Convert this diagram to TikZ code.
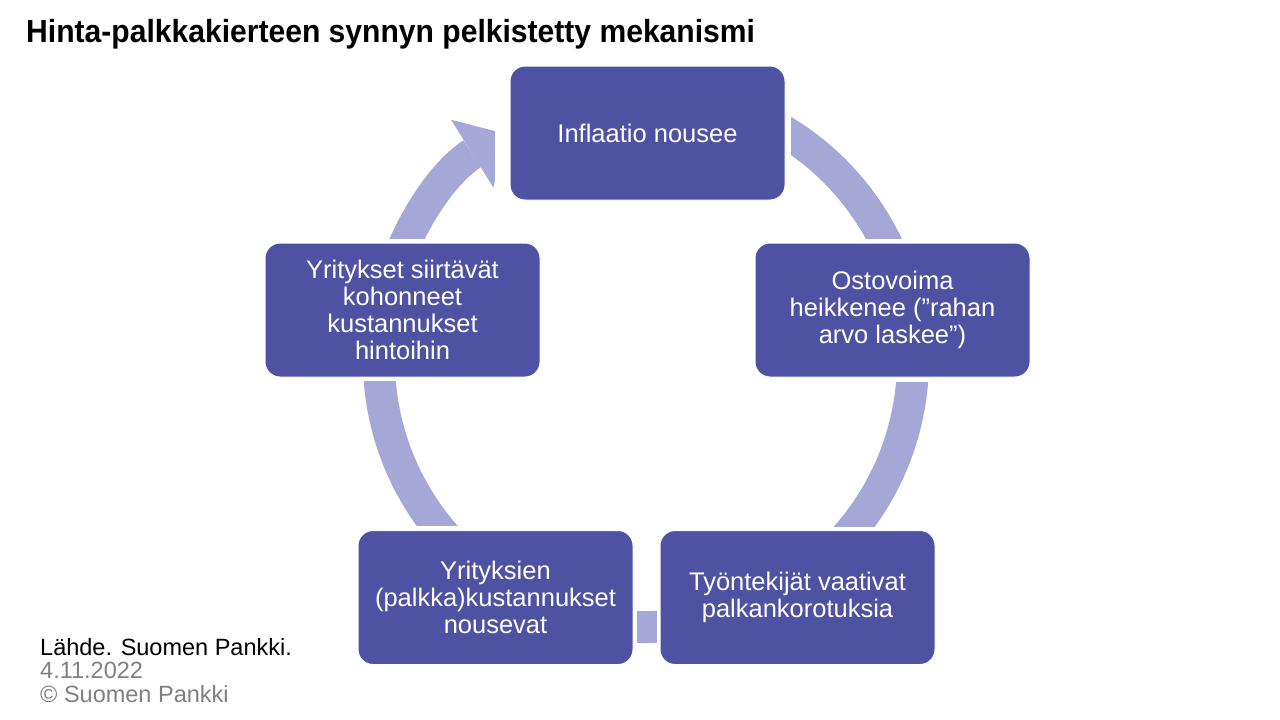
\documentclass[tikz,border=0pt]{standalone}
\usepackage{fontspec}
\setmainfont{Liberation Sans}
\newfontfamily\narrowfont[FakeStretch=0.94]{Liberation Sans}
\usetikzlibrary{arrows.meta,backgrounds}

\definecolor{boxblue}{RGB}{79,82,162}
\definecolor{ringblue}{RGB}{165,168,214}
\definecolor{srcgray}{RGB}{128,128,128}

\tikzset{
  stage/.style={fill=boxblue, draw=white, line width=1pt, rounded corners=15pt,
    minimum width=275pt, minimum height=134pt, text=white, align=center,
    font=\fontsize{25.5}{27}\selectfont},
  ring/.style={ringblue, line width=32pt},
  gap/.style={fill=white},
  source/.style={anchor=base west, inner sep=0pt, font=\fontsize{23.5}{24}\selectfont}
}

\begin{document}
\begin{tikzpicture}[x=1pt,y=-1pt]
\useasboundingbox (0,0) rectangle (1280,720);

\node[anchor=base west, inner sep=0pt, font=\narrowfont\bfseries\fontsize{32}{36}\selectfont] (title) at (26,42) {Hinta-palkkakierteen synnyn pelkistetty mekanismi};

% the five stages of the cycle
\node[stage] (infl) at (647.5,133) {Inflaatio nousee};
\node[stage] (osto) at (892.5,310) {Ostovoima\\heikkenee (”rahan\\arvo laskee”)};
\node[stage] (tyon) at (797.5,597.5) {Työntekijät vaativat\\palkankorotuksia};
\node[stage] (kust) at (495.5,597.5) {Yrityksien\\(palkka)kustannukset\\nousevat};
\node[stage] (siirto) at (402.5,310) {Yritykset siirtävät\\kohonneet\\kustannukset\\hintoihin};

\begin{scope}[on background layer]
  \fill[white] (0,0) rectangle (1280,720);
  \coordinate (ctr) at (646,360);
  \draw[ring, -{Triangle[width=80pt,length=38pt,line width=0pt]}]
    (ctr) ++(280:267) arc[start angle=280, end angle=598, radius=267];
  % white gaps round the stages
  \fill[gap] ([shift={(-15,-6)}]infl.north west) rectangle ([shift={(5,6)}]infl.south east);
  \fill[gap] ([shift={(-5,-4)}]osto.north west) rectangle ([shift={(5,4)}]osto.south east);
  \fill[gap] ([shift={(-3,-3)}]tyon.north west) rectangle ([shift={(5,5)}]tyon.south east);
  \fill[gap] ([shift={(-5,-4)}]kust.north west) rectangle ([shift={(3,5)}]kust.south east);
  \fill[gap] ([shift={(-5,-4)}]siirto.north west) rectangle ([shift={(5,3)}]siirto.south east);
\end{scope}

\node[source] (src1) at (40,655) {Lähde. Suomen Pankki.};
\node[source, text=srcgray] (src2) at (40,678) {4.11.2022};
\node[source, text=srcgray] (src3) at (40,702) {© Suomen Pankki};
\end{tikzpicture}
\end{document}
